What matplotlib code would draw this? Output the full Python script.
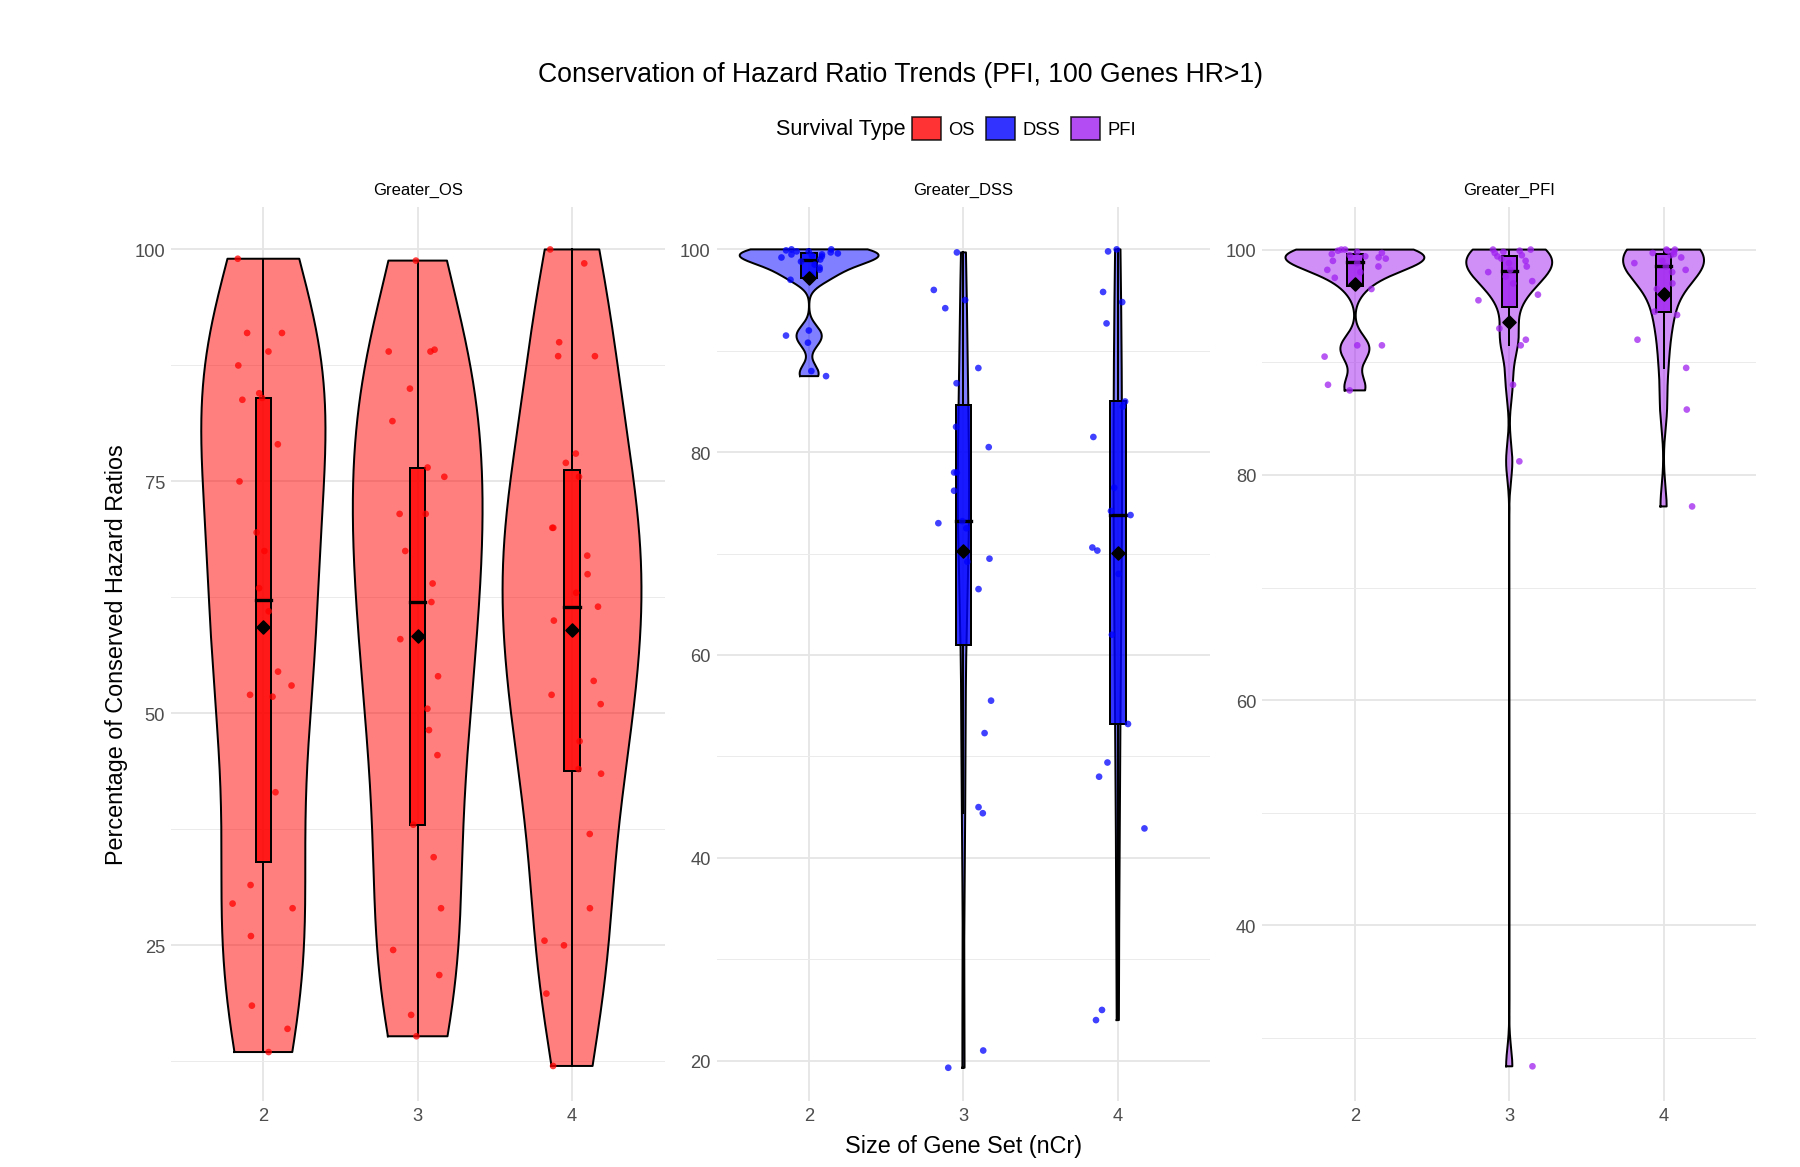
import numpy as np
import matplotlib
matplotlib.use("Agg")
import matplotlib.pyplot as plt
from matplotlib.patches import Patch

plt.rcParams['font.family'] = ['Liberation Sans', 'DejaVu Sans']

panels = ["Greater_OS", "Greater_DSS", "Greater_PFI"]
sizes = [2, 3, 4]
colors = {"Greater_OS": "red", "Greater_DSS": "blue", "Greater_PFI": "#A020F0"}

os2 = [99, 91, 91, 89, 87.5, 84.5, 84, 83.8, 79, 75, 69.5, 67.5, 63.5, 61, 54.5, 53, 52, 51.8, 41.5, 31.5, 29.5, 29, 26, 18.5, 16, 13.5]
os3 = [98.8, 89.2, 89, 89, 85, 81.5, 76.5, 75.5, 71.5, 71.5, 67.5, 64, 62, 58, 54, 50.5, 48.2, 45.5, 38, 34.5, 29, 24.5, 21.8, 17.5, 15.2]
os4 = [100, 98.5, 90, 88.5, 88.5, 78, 77, 75.5, 70, 70, 67, 65, 63, 61.5, 60, 53.5, 52, 51, 47, 44, 43.5, 37, 29, 25.5, 25, 19.8, 12]
dss2 = [100, 100, 99.9, 99.8, 99.8, 99.7, 99.6, 99.5, 99.5, 99.4, 99.3, 99.2, 99, 98.8, 98.5, 98.2, 98, 97.5, 97.2, 97, 92, 91.5, 90.8, 88, 87.5]
dss3 = [99.7, 96, 95, 94.2, 88.3, 86.8, 82.5, 80.5, 78, 78, 76.2, 73.2, 73, 72.5, 69.5, 69.2, 66.5, 55.5, 52.3, 45, 44.4, 21, 19.3]
dss4 = [100, 99.8, 95.8, 94.8, 92.7, 85, 84.5, 81.5, 76.5, 74.2, 73.8, 70.6, 70.3, 68, 62, 53.2, 49.4, 48, 42.9, 25, 24]
pfi2 = [100, 100, 99.9, 99.8, 99.7, 99.6, 99.5, 99.4, 99.3, 99.2, 99, 98.8, 98.5, 98.2, 98, 97.5, 96.5, 91.5, 91.5, 90.5, 88, 87.5]
pfi3 = [100, 100, 99.9, 99.8, 99.7, 99.5, 99.4, 99.2, 99, 98.8, 98.5, 98.2, 98, 97.6, 97.2, 97, 96, 95.5, 93, 92, 91.5, 88, 81.2, 27.5]
pfi4 = [100, 100, 99.9, 99.8, 99.7, 99.6, 99.5, 99.3, 99, 98.8, 98.5, 98.2, 98, 97, 96.5, 94.5, 94.2, 92, 89.5, 85.8, 77.2]
data = {"Greater_OS": [os2, os3, os4], "Greater_DSS": [dss2, dss3, dss4], "Greater_PFI": [pfi2, pfi3, pfi4]}
ylims = {"Greater_OS": (8.2, 104.6), "Greater_DSS": (16.0, 104.2), "Greater_PFI": (24.4, 103.8)}
yticks = {"Greater_OS": [25, 50, 75, 100], "Greater_DSS": [20, 40, 60, 80, 100], "Greater_PFI": [40, 60, 80, 100]}

def kde(v):
    v = np.asarray(v, float)
    n = len(v)
    iqr = np.subtract(*np.percentile(v, [75, 25]))
    bw = 0.9 * min(v.std(ddof=1), iqr / 1.34) * n ** -0.2
    ys = np.linspace(v.min(), v.max(), 512)
    d = np.exp(-0.5 * ((ys[:, None] - v[None, :]) / bw) ** 2).sum(1) / (n * bw * np.sqrt(2 * np.pi))
    return ys, d

W, H = 1560.0, 1012.0
fig = plt.figure(figsize=(15, 9.733), dpi=120)
lefts = [148 / W, 621 / W, 1094 / W]
w = 428 / W
rng = np.random.default_rng(3)
for pi, p in enumerate(panels):
    ax = fig.add_axes([lefts[pi], 1 - 955 / H, w, (955 - 180) / H])
    c = colors[p]
    kd = [kde(v) for v in data[p]]
    mx = max(d.max() for _, d in kd)
    for x, v, (ys, d) in zip(sizes, data[p], kd):
        hw = d / mx * 0.45
        ax.fill_betweenx(ys, x - hw, x + hw, facecolor=c, alpha=0.5, edgecolor="none", zorder=2)
        ax.plot(np.r_[x - hw, (x + hw)[::-1], x - hw[0]], np.r_[ys, ys[::-1], ys[0]], color="black", lw=1.2, zorder=3)
        q1, med, q3 = np.percentile(v, [25, 50, 75])
        iqr = q3 - q1
        vv = np.asarray(v)
        lo = vv[vv >= q1 - 1.5 * iqr].min(); hi = vv[vv <= q3 + 1.5 * iqr].max()
        ax.plot([x, x], [lo, q1], color="black", lw=1.2, zorder=4)
        ax.plot([x, x], [q3, hi], color="black", lw=1.2, zorder=4)
        ax.add_patch(plt.Rectangle((x - 0.05, q1), 0.1, q3 - q1, facecolor=c, alpha=0.8, edgecolor="none", zorder=4))
        ax.add_patch(plt.Rectangle((x - 0.05, q1), 0.1, q3 - q1, facecolor="none", edgecolor="black", lw=1.2, zorder=4))
        ax.plot([x - 0.05, x + 0.05], [med, med], color="black", lw=2, zorder=5)
        jx = x + rng.uniform(-0.2, 0.2, len(v))
        ax.scatter(jx, v, s=16, color=c, alpha=0.75, edgecolor="none", zorder=6)
        ax.scatter([x], [np.mean(v)], marker="D", s=30, color="black", zorder=7)
    ax.set_xticks(sizes)
    ax.set_yticks(yticks[p])
    t = yticks[p]; st = t[1] - t[0]
    ax.set_yticks([a + st / 2 for a in [t[0] - st] + t], minor=True)
    ax.set_xlim(1.4, 4.6)
    ax.set_ylim(*ylims[p])
    ax.tick_params(length=0, labelsize=11, colors="#4d4d4d")
    ax.tick_params(which="minor", length=0)
    ax.grid(True, which="major", color="#e5e5e5", lw=1.1)
    ax.grid(True, which="minor", color="#ebebeb", lw=0.6)
    ax.set_axisbelow(True)
    for s in ax.spines.values():
        s.set_visible(False)
    ax.set_title(p, fontsize=10, pad=8)
    if pi == 0:
        ax.set_ylabel("Percentage of Conserved Hazard Ratios", fontsize=14)
    if pi == 1:
        ax.set_xlabel("Size of Gene Set (nCr)", fontsize=14, labelpad=6)

fig.text(0.5, 1 - 65 / H, "Conservation of Hazard Ratio Trends (PFI, 100 Genes HR>1)", ha="center", va="center", fontsize=16)
fig.text(785 / W, 1 - 112 / H, "Survival Type", ha="right", va="center", fontsize=13)
handles = [Patch(facecolor=colors[p], edgecolor="black", alpha=0.8) for p in panels]
fig.legend(handles, ["OS", "DSS", "PFI"], loc="center left", bbox_to_anchor=(790 / W, 1 - 112 / H),
           ncol=3, frameon=False, fontsize=11, handlelength=1.6, handleheight=1.6, columnspacing=0.6,
           handletextpad=0.4, borderpad=0, borderaxespad=0)
fig.savefig("out.png", dpi=120, facecolor="white")
